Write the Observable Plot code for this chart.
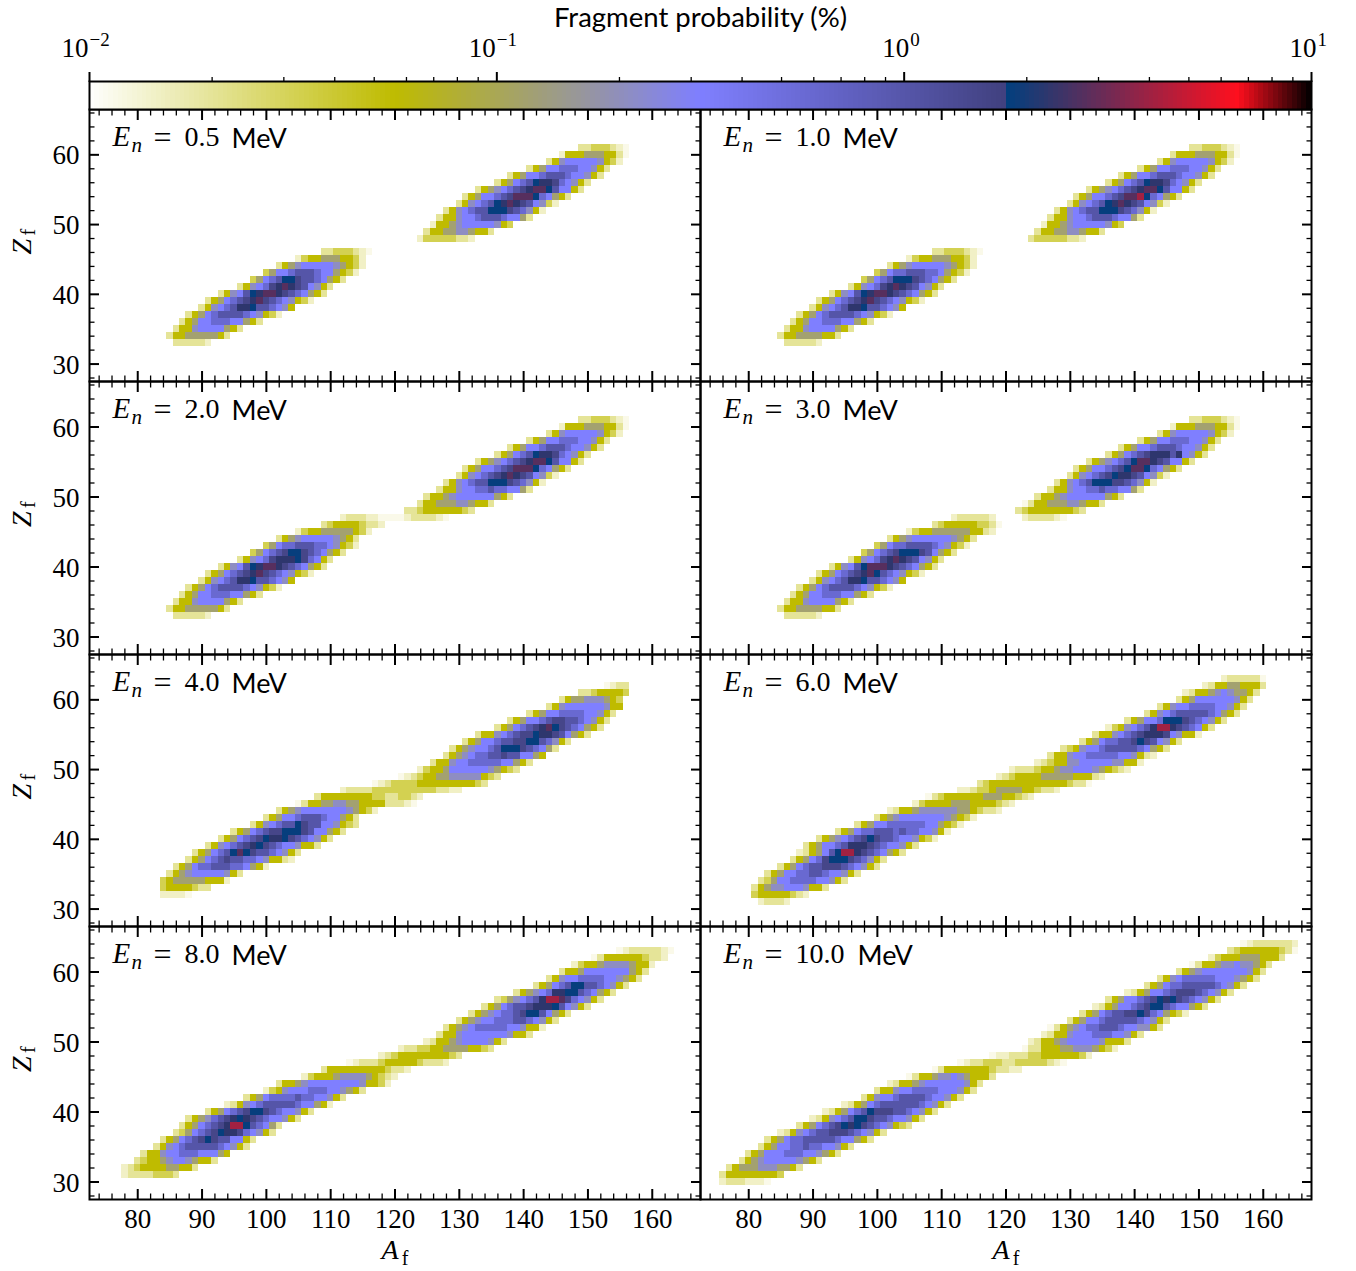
<!DOCTYPE html>
<html>
<head>
<meta charset="utf-8">
<script src="https://cdn.jsdelivr.net/npm/d3@7"></script>
<script src="https://cdn.jsdelivr.net/npm/@observablehq/plot@0.6"></script>
<style>
html,body{margin:0;padding:0;background:#fff;}
#chart{position:relative;width:1356px;height:1271px;overflow:hidden;}
.cells{filter:blur(0.45px);}
</style>
</head>
<body>
<div id="chart"></div>
<script>
// Probability (%) for each level code used in the rows below
const levelCodes = "123456789abcdef";
const levelValues = [0.0115,0.0146,0.02,0.0324,0.0562,0.12,0.209,0.316,0.59,1.02,1.55,1.84,2.26,2.79,4.07];

// Rows: "Z firstA levels"
const rows05 = ["33 86 333332","34 85 3556666653","35 86 35578888653","36 87 3568899988653","37 88 356 89aaaa987542","38 90 35789addcaa9875","39 91 35689abdeba987542","40 93 3578acdeedba98653","41 96 35789bdedba8753","42 98 4689accbaa98653","43 100 46889aaa9886542","44 102 35678888876542","45 105 24556665542","46 109 33444321",
"48 124 244444332","49 125 35566776553","50 126 2556788888754","51 127 35578 89aaa98863","52 128 3578 9aacccba9752","53 130 35789acdedba8742","54 131 356889abeeec98653","55 133 356789abdeeca8853","56 136 35689acddb98753","57 138 356889aaa988753","58 141 3568899988753","59 144 357888887542","60 146 25556665531","61 149 33444321"];
const rows10 = ["33 86 333332","34 85 3556666553","35 86 35578888653","36 87 3568899988653","37 88 35689aaaa987542","38 90 35789addcaa9875","39 91 35689abdeba987542","40 93 3578acdeedba98653","41 96 35789bdedba8753","42 98 4689acccba98653","43 100 46899aaa9986542","44 102 35678888876542","45 105 24556665542","46 109 33444321",
"48 124 344444332","49 125 35566776553","50 126 2556788888754","51 127 355788 9aaa98863","52 128 35789aacccba9752","53 130 35789acdedba8742","54 131 356889abeefc98653","55 133 356789abdeeca8853","56 136 35689acddb98753","57 138 356889aaa988753","58 141 3568899988753","59 144 357888887542","60 146 35556665531","61 149 33444321"];
const rows20 = ["33 86 333332","34 85 3556666653","35 86 35578888653","36 87 3568899988653","37 88 35689aaaa987542","38 90 35789addcaa9875","39 91 35689abdeba987542","40 93 3578acdeedba98653","41 96 35789bdddcb9853","42 98 4689abccba98653","43 100 46899aaa9987542","44 102 3567888887653","45 105 245566666542","46 109 3455554332","47 112 23332211112333321",
"48 122 33455555543","49 124 355666776553","50 125 35567888888653","51 127 3557889 9a99 8863","52 128 35789aacccba9752","53 130 35789abdedba8742","54 131 356889abeeec98653","55 133 356789abdeeca8853","56 136 35689acddb98753","57 138 356889aaa988753","58 141 3568899988753","59 144 357888887542","60 146 25556665531","61 149 33444321"];
const rows30 = ["33 86 333332","34 85 3556666553","35 86 35578888653","36 87 3568899988653","37 88 35689aaaa987542","38 90 35789addcaa9875","39 91 35689abdeca987542","40 93 3578aceeedba98653","41 96 35789bdedba8753","42 98 4689abcccba8653","43 100 46899aaaa987542","44 102 35678888887653","45 105 24556666665532","46 109 34555554431","47 112 2333332","47 123 2333321",
"48 122 34555555543","49 123 1355666776553","50 125 35567888888653","51 127 355788 99a99 8863","52 128 35789acccbba9752","53 130 35789abcddba8742","54 131 356889abceec98653","55 133 356789acee dba8853","56 136 35689abdddad8753","57 138 356889aaa988753","58 141 3568899988753","59 144 357888887542","60 146 25556665531","61 149 33444321"];
const rows40 = ["32 84 22221","33 84 45555433","34 84 45666665552","35 85 3567888887 53","36 86 3568 99aaa9986 52","37 88 35689aba a998 75532","38 89 3568 9acecbaa98 753","39 91 3578 9abdcba98875 53","40 93 3568 9abcddcba987 53","41 95 35689abbcccba88653","42 98 35789aacba a88 7543","43 100 356889aaa98865 3","44 102 356788888887 6542","45 105 13556677665555 33321","46 108 3555555554433 4432","47 112 2333344 44444 44433 22","48 117 123444 4555555 55543","49 121 12345 56677777 543","50 124 245 56888888 765 43","51 126 3557889 99998865 3","52 128 35678 99aabaa886 5","53 129 356 788 9acccba986 3","54 131 3 5688 9aabbcca9 753","55 133 3557 89abbcddba8653","56 136 35689abdecba98653","57 138 356889abbaa98753","58 141 35688 9999887 53","59 144 3578888 88 755","60 146 3566777 654","61 149 33455554","62 153 1233"];
const rows60 = ["31 82 23332","32 81 455555432","33 81 356778887553","34 82 34688999988753","35 83 356889 9aa98875 3","36 85 35689aabbba98753","37 87 35689bcccba9753","38 88 235 68acffdba98653","39 89 35688 9adddba98875 3","40 91 356789abcbaa98875 42","41 94 3568 99aaa9a99 8875 2","42 97 356889999998 86542","43 100 35678888888765 42","44 102 235567777776 65 4332","45 106 245555666 55554 32","46 108 1345555556665 54 32","47 113 223445666655 433 2","48 116 34555555555555 433 1","49 119 234555566666 5553 2","50 121 2333455677888 7654 32","51 125 234557788888 77552","52 127 355788999998 875 32","53 129 3457889aaaaa98 653","54 132 356899aabcba8753","55 134 35578 9abdddb87 5 52","56 136 245789adffdba98 53","57 139 35688 9cccba98753","58 142 3578 9aaaaa98653","59 144 3578899998875 3","60 147 356888888 753","61 148 2355678766 53","62 151 2355 665553","63 154 233333 1"];
const rows80 = ["31 78 233334443","32 78 234555566553","33 80 3455678 87 6553","34 81 355 7889 9988865","35 83 357 89aaaaa987 53","36 84 3568 9abcbaa88 53","37 86 346 89abcddb98 753","38 87 3568 9abdffca98 63","39 88 35679abdcdba988 753","40 91 35689abccba9887 53","41 94 235789aaaaa988652","42 97 356899 99a99 88753","43 100 245788899988 7653","44 102 3556788 88888 87554 2","45 106 24555677776 5432","46 109 3555555 555 433 2","47 113 12333455555 433 32","48 118 234555555 5543","49 121 2334455666 6554 3","50 125 235 567888 8753","51 127 355 78888 888 7553","52 128 3567 89999988 7 552","53 130 35678899 9aa9875 3","54 132 3567 899abcca8653","55 134 3568 9aabdddca87 53","56 136 34678 9adffeb98753","57 139 35678 9ddcca98653","58 142 3568 9accaa98753","59 144 3578899998876 53","60 146 355688888886 53","61 148 2455677776552","62 151 135555554 332","63 155 123333321"];
const rows100 = ["30 76 23332221","31 76 3555555554","32 77 356667776653","33 79 3567888887653","34 80 356888999887653","35 82 35688 99a9988753","36 83 356899aaaaa98 8653","37 85 235789aabbba98753","38 88 35689abcdcba98754 3","39 90 2357 89accbaa98875 3","40 92 235689acbbbaa98753","41 95 235689aaaaaa98753","42 98 357889aaaa98875 3","43 100 355788999988875 3","44 102 235567888888753","45 105 13556778765553","46 109 1355555554332 2","47 113 12334443344444321","48 118 122333445555554 2","49 123 1335556677765 42","50 124 235567888887555 3","51 126 2355788 8999887 53","52 127 13567899aaa98877 53","53 130 35688 9aaaaa98753","54 132 35689aabbcb98654 2","55 134 23568 89abcca98865 3","56 136 35688 9abcdcba98753","57 139 2356889abbba98753","58 142 35689 9aaaaa98753","59 144 3578 99999888765 3","60 147 3567888 88887 53","61 149 1355677877653","62 152 245556665553","63 155 34555555 431","64 157 12333333 2"];

const panels = [
  {energy:"0.5",rows:rows05},{energy:"1.0",rows:rows10},
  {energy:"2.0",rows:rows20},{energy:"3.0",rows:rows30},
  {energy:"4.0",rows:rows40},{energy:"6.0",rows:rows60},
  {energy:"8.0",rows:rows80},{energy:"10.0",rows:rows100}
];

const xMajor = [80,90,100,110,120,130,140,150,160];
const yMajor = [30,40,50,60];
const xMinor = d3.range(74,168,2).filter(v=>v%10!==0);
const yMinor = d3.range(28,67,2).filter(v=>v%10!==0);
const cbMajor = [0.01,0.1,1,10];
const cbMinor = [0.02,0.03,0.04,0.05,0.06,0.07,0.08,0.09,0.2,0.3,0.4,0.5,0.6,0.7,0.8,0.9,2,3,4,5,6,7,8,9];
const cbExponents = ["−2","−1","0","1"];
const cbJoin = [-1,-1,5,5];

const colorScale = {
  type:"log",
  domain:[0.01,0.0562,0.316,1.77,1.78,6.6,10],
  range:["#fffffe","#bfbb00","#7f7fff","#41417f","#003f7f","#ff0f1e","#000000"],
  clamp:true
};
const serif = "'Liberation Serif','DejaVu Serif',serif";
const sans = "Lato,'Noto Sans',sans-serif";

function parseRows(rows){
  const cells=[];
  for(const r of rows){
    const parts=r.split(" ");
    const Z=+parts[0],A0=+parts[1];
    const lv=parts.slice(2).join("");
    let i=0;
    for(const ch of lv){
      const k=levelCodes.indexOf(ch);
      if(k>=0) cells.push({Z,A:A0+i,p:levelValues[k]});
      i++;
    }
  }
  return cells;
}

const chart=document.getElementById("chart");
const tops=[109,381,654,926], hs=[272,273,272,273];

panels.forEach((pn,i)=>{
  const col=i%2,row=i>>1;
  const left=col?695:0, mL=col?5:89, mR=col?45:5, mT=10, mB=75;
  const w=611, h=hs[row];
  const tickStyle={fill:"none",label:null};
  const marks=[
    Plot.rect(parseRows(pn.rows),{x1:d=>d.A-0.5,x2:d=>d.A+0.5,y1:d=>d.Z-0.5,y2:d=>d.Z+0.5,fill:"p",className:"cells",shapeRendering:"crispEdges"}),
    Plot.axisX(xMajor,{anchor:"bottom",tickSize:-10,strokeWidth:2,...tickStyle}),
    Plot.axisX(xMinor,{anchor:"bottom",tickSize:-5.5,strokeWidth:1.3,...tickStyle}),
    Plot.axisX(xMajor,{anchor:"top",tickSize:-10,strokeWidth:2,...tickStyle}),
    Plot.axisX(xMinor,{anchor:"top",tickSize:-5.5,strokeWidth:1.3,...tickStyle}),
    Plot.axisY(yMajor,{anchor:"right",tickSize:-10,strokeWidth:2,...tickStyle}),
    Plot.axisY(yMinor,{anchor:"right",tickSize:-5.5,strokeWidth:1.3,...tickStyle}),
    Plot.frame({stroke:"#000",strokeWidth:2}),
    Plot.text(["E"],{text:d=>d,frameAnchor:"top-left",dx:23,dy:16,fontStyle:"italic",fontFamily:serif,fontSize:29,textAnchor:"start",lineAnchor:"top"}),
    Plot.text(["n"],{text:d=>d,frameAnchor:"top-left",dx:42,dy:28,fontStyle:"italic",fontFamily:serif,fontSize:21,textAnchor:"start",lineAnchor:"top"}),
    Plot.text(["="],{text:d=>d,frameAnchor:"top-left",dx:64,dy:16,fontFamily:serif,fontSize:32,textAnchor:"start",lineAnchor:"top"}),
    Plot.text([pn.energy],{text:d=>d,frameAnchor:"top-left",dx:95,dy:17,fontFamily:serif,fontSize:28,textAnchor:"start",lineAnchor:"top"}),
    Plot.text(["MeV"],{text:d=>d,frameAnchor:"top-left",dx:pn.energy.length>3?157:142,dy:19,fontFamily:sans,fontSize:27,textAnchor:"start",lineAnchor:"top"})
  ];
  if(col===0){
    marks.push(
      Plot.axisY(yMajor,{anchor:"left",tickSize:-10,strokeWidth:2,...tickStyle}),
      Plot.axisY(yMinor,{anchor:"left",tickSize:-5.5,strokeWidth:1.3,...tickStyle}),
      Plot.text(yMajor,{y:d=>d,text:d=>String(d),frameAnchor:"left",dx:-10,dy:1,textAnchor:"end",lineAnchor:"middle",fontFamily:serif,fontSize:27}),
      Plot.text(["Z"],{text:d=>d,frameAnchor:"left",rotate:-90,dx:-67,dy:9,fontStyle:"italic",fontFamily:serif,fontSize:28}),
      Plot.text(["f"],{text:d=>d,frameAnchor:"left",rotate:-90,dx:-61,dy:-10,fontFamily:serif,fontSize:20})
    );
  }
  if(row===3){
    marks.push(
      Plot.text(xMajor,{x:d=>d,text:d=>String(d),frameAnchor:"bottom",dy:9,lineAnchor:"top",fontFamily:serif,fontSize:27}),
      Plot.text(["A"],{text:d=>d,frameAnchor:"bottom",dx:-5,dy:59,fontStyle:"italic",fontFamily:serif,fontSize:28}),
      Plot.text(["f"],{text:d=>d,frameAnchor:"bottom",dx:10,dy:65,fontFamily:serif,fontSize:20})
    );
  }
  const svg=Plot.plot({
    width:mL+w+mR,height:mT+h+mB,marginLeft:mL,marginRight:mR,marginTop:mT,marginBottom:mB,
    x:{domain:[72.5,167.5],axis:null},
    y:{domain:[27.5,66.5],axis:null},
    color:colorScale,
    style:{fontFamily:serif,background:"transparent",overflow:"visible",position:"absolute",left:left+"px",top:(tops[row]-mT)+"px"},
    marks
  });
  chart.appendChild(svg);
});

// Colour bar
const cbEdges=d3.range(0,257).map(i=>Math.pow(10,-2+3*i/256));
const cbCells=d3.range(0,256).map(i=>({x1:cbEdges[i],x2:cbEdges[i+1],p:Math.sqrt(cbEdges[i]*cbEdges[i+1])}));
const cbTextMarks=cbMajor.flatMap((v,i)=>[
  Plot.text([v],{x:d=>d,text:()=>"10",frameAnchor:"top",dy:-44,dx:cbJoin[i],textAnchor:"end",fontFamily:serif,fontSize:27}),
  Plot.text([v],{x:d=>d,text:()=>cbExponents[i],frameAnchor:"top",dy:-49,dx:cbJoin[i]+1,textAnchor:"start",fontFamily:serif,fontSize:19})
]);
const cb=Plot.plot({
  width:1356,height:110,marginLeft:89,marginRight:45,marginTop:81,marginBottom:1,
  x:{type:"log",domain:[0.01,10],axis:null},
  y:{domain:[0,1],axis:null},
  color:colorScale,
  style:{fontFamily:serif,background:"transparent",overflow:"visible",position:"absolute",left:"0px",top:"0px"},
  marks:[
    Plot.rect(cbCells,{x1:"x1",x2:"x2",y1:0,y2:1,fill:"p",shapeRendering:"crispEdges"}),
    Plot.axisX(cbMajor,{anchor:"top",tickSize:10,strokeWidth:2,fill:"none",label:null}),
    Plot.axisX(cbMinor,{anchor:"top",tickSize:5,strokeWidth:1.3,fill:"none",label:null}),
    Plot.frame({stroke:"#000",strokeWidth:2}),
    ...cbTextMarks,
    Plot.text(["Fragment probability (%)"],{text:d=>d,frameAnchor:"top",dx:0,dy:-74,fontFamily:sans,fontSize:27.5})
  ]
});
chart.appendChild(cb);
</script>
</body>
</html>
